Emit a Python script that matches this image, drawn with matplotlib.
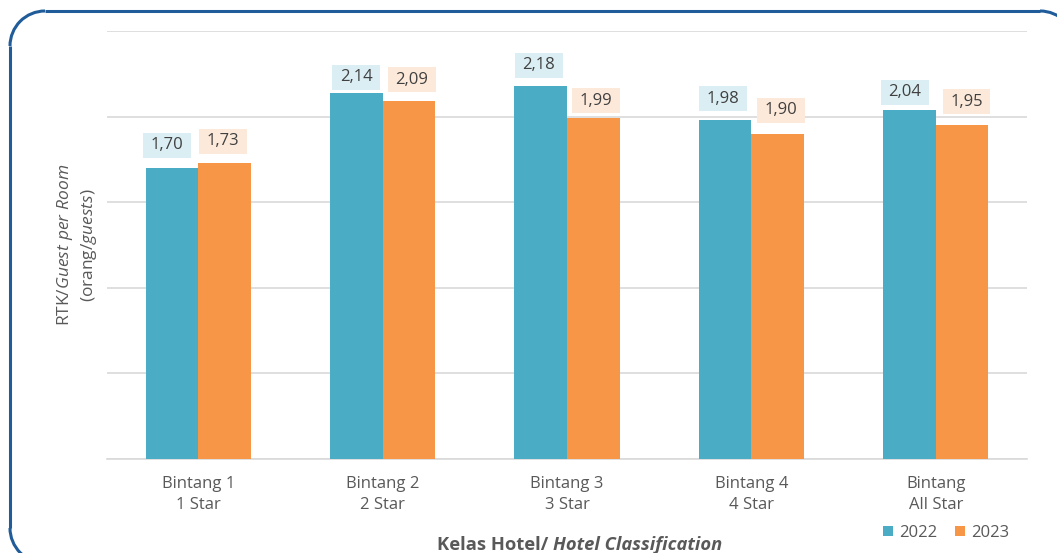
import matplotlib
matplotlib.use("Agg")
import matplotlib.pyplot as plt
import numpy as np
from matplotlib.patches import Arc
from matplotlib.lines import Line2D
from matplotlib.offsetbox import TextArea, HPacker, AnchoredOffsetbox

plt.rcParams['font.family'] = ['Open Sans', 'DejaVu Sans']
plt.rcParams['mathtext.fontset'] = 'custom'
plt.rcParams['mathtext.rm'] = 'Open Sans'
plt.rcParams['mathtext.it'] = 'Open Sans:italic'

categories = ["Bintang 1\n1 Star", "Bintang 2\n2 Star", "Bintang 3\n3 Star",
              "Bintang 4\n4 Star", "Bintang\nAll Star"]
values_2022 = [1.70, 2.14, 2.18, 1.98, 2.04]
values_2023 = [1.73, 2.09, 1.99, 1.90, 1.95]
series_names = ["2022", "2023"]

# label nudges (pixels): horizontal shift and gap above bar
lbl_dx_2022 = [-5, 0, -2, -2, -4.5]
lbl_gap_2022 = [10, 3, 8, 9, 5]
lbl_dx_2023 = [-1.5, 3, 2.5, 3, 4.5]
lbl_gap_2023 = [9, 9, 5, 11, 11]

c_blue = "#4BACC6"
c_orange = "#F79646"
c_blue_lbl = "#DAEEF3"
c_orange_lbl = "#FDE9D9"
grey = "#595959"
frame_c = "#1F5C99"

W, H = 1057, 553
fig = plt.figure(figsize=(W/100, H/100), dpi=100)

# background axes in pixel units for the rounded frame (y measured from bottom)
bg = fig.add_axes([0, 0, 1, 1], zorder=-1)
bg.set_xlim(0, W)
bg.set_ylim(0, H)
bg.axis("off")
L, T, R, B, r = 10, H - 11, 1075, H - 563, 35
lw = 2.2
bg.add_line(Line2D([L + r, R - r], [T, T], color=frame_c, lw=lw, solid_capstyle="butt"))
bg.add_line(Line2D([L, L], [B + r, T - r], color=frame_c, lw=lw, solid_capstyle="butt"))
bg.add_patch(Arc((L + r, T - r), 2*r, 2*r, theta1=90, theta2=180, color=frame_c, lw=lw))
bg.add_patch(Arc((R - r, T - r), 2*r, 2*r, theta1=0, theta2=90, color=frame_c, lw=lw))
bg.add_patch(Arc((L + r, B + r), 2*r, 2*r, theta1=180, theta2=270, color=frame_c, lw=lw))

ax = fig.add_axes([107/W, (H-459)/H, (1027-107)/W, (459-31)/H])
ax.patch.set_alpha(0)
x = np.arange(len(categories))
w = 0.285
b1 = ax.bar(x - w/2, values_2022, w, color=c_blue, label=series_names[0], zorder=3)
b2 = ax.bar(x + w/2, values_2023, w, color=c_orange, label=series_names[1], zorder=3)

ax.set_ylim(0, 2.5)
ax.set_xlim(-0.495, 4.495)
ax.set_yticks(np.arange(0, 2.51, 0.5))
ax.yaxis.grid(True, color="#D9D9D9", linewidth=1.2, zorder=0)
ax.set_yticklabels([])
ax.tick_params(axis='y', length=0)
ax.tick_params(axis='x', length=0, pad=12, labelsize=12, labelcolor=grey)
ax.set_xticks(x)
ax.set_xticklabels(categories, linespacing=1.45)
for s in ["top", "right", "left"]:
    ax.spines[s].set_visible(False)
ax.spines["bottom"].set_color("#D9D9D9")
ax.spines["bottom"].set_linewidth(1.2)

def fmt(v):
    return f"{v:.2f}".replace(".", ",")

PX = 0.72  # points per pixel
VPAD = 4.5  # vertical pad of label box in px

def add_labels(xs, vals, dxs, gaps, fc):
    for xi, v, dx, g in zip(xs, vals, dxs, gaps):
        ax.annotate(fmt(v), (xi, v), xytext=(dx * PX, (g + VPAD) * PX),
                    textcoords="offset points", ha="center", va="bottom",
                    fontsize=12, color="#404040",
                    bbox=dict(boxstyle="square,pad=0.45", fc=fc, ec="none",
                              mutation_aspect=0.6))

add_labels(x - w/2, values_2022, lbl_dx_2022, lbl_gap_2022, c_blue_lbl)
add_labels(x + w/2, values_2023, lbl_dx_2023, lbl_gap_2023, c_orange_lbl)

# y label
fig.text(77/W, 1 - 245/H, "RTK/$\\mathit{Guest\\ per\\ Room}$\n(orang/$\\mathit{guests}$)",
         rotation=90, ha="center", va="center", fontsize=12.5, color=grey,
         linespacing=1.25, multialignment="center")

# x label
t1 = TextArea("Kelas Hotel/ ", textprops=dict(fontsize=13.2, fontweight="bold", color=grey))
t2 = TextArea("Hotel Classification", textprops=dict(fontsize=13.2, fontweight="bold",
                                                     fontstyle="italic", color=grey))
hp = HPacker(children=[t1, t2], align="baseline", pad=0, sep=0)
ab = AnchoredOffsetbox(loc="center", child=hp, frameon=False,
                       bbox_to_anchor=(580/W, 1 - 545/H),
                       bbox_transform=fig.transFigure, borderpad=0)
fig.add_artist(ab)

leg = fig.legend(handles=[b1, b2], labels=series_names, loc="center",
                 bbox_to_anchor=(946/W, 1 - 533/H), ncol=2, frameon=False,
                 fontsize=12, handlelength=0.6, handleheight=0.6,
                 handletextpad=0.35, columnspacing=1.1, labelcolor=grey,
                 borderpad=0, borderaxespad=0)

fig.savefig("out.png", dpi=100)
